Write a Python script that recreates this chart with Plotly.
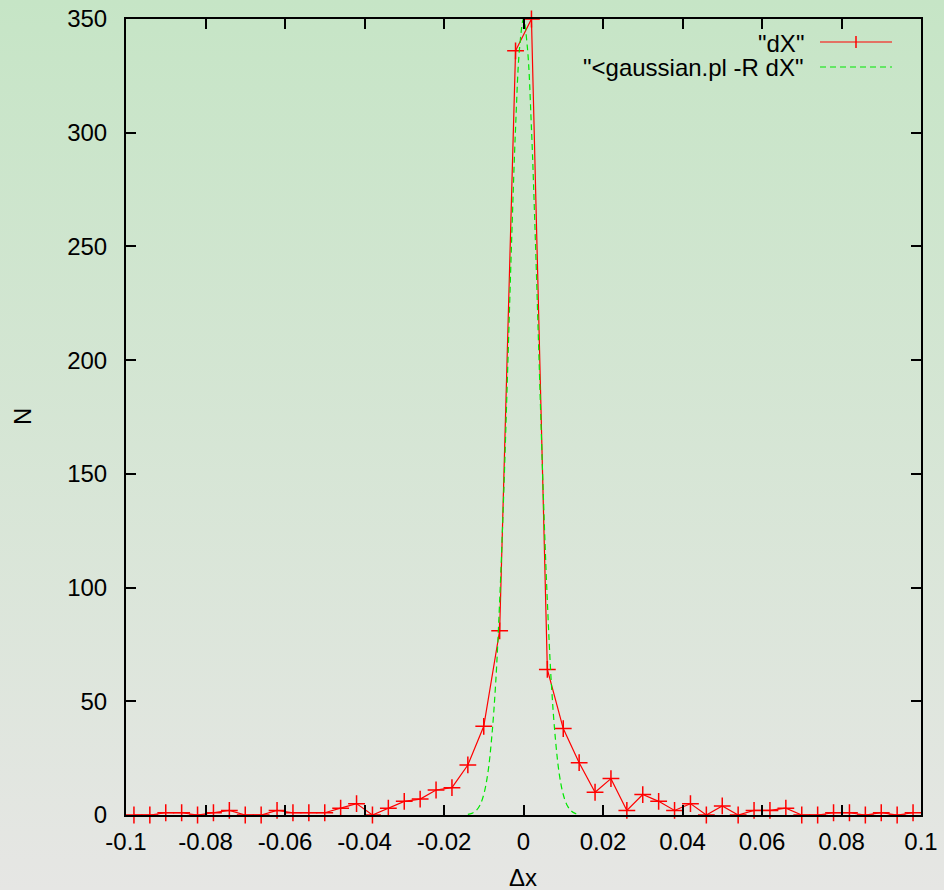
import base64
import plotly.graph_objects as go

# ---- data ----
dx_x = [-0.098, -0.094, -0.090, -0.086, -0.082, -0.078, -0.074, -0.070, -0.066, -0.062,
        -0.058, -0.054, -0.050, -0.046, -0.042, -0.038, -0.034, -0.030, -0.026, -0.022,
        -0.018, -0.014, -0.010, -0.006, -0.002, 0.002, 0.006, 0.010, 0.014, 0.018,
        0.022, 0.026, 0.030, 0.034, 0.038, 0.042, 0.046, 0.050, 0.054, 0.058,
        0.062, 0.066, 0.070, 0.074, 0.078, 0.082, 0.086, 0.090, 0.094, 0.098]
dx_n = [0, 0, 1, 1, 0, 1, 2, 0, 0, 2,
        1, 1, 1, 3, 5, 0, 3, 6, 7, 11,
        12, 22, 39, 81, 336, 350, 64, 38, 23, 10,
        16, 2, 9, 6, 2, 5, 0, 4, 0, 2,
        2, 3, 0, 0, 1, 1, 0, 1, 0, 1]

gauss_x = [-0.014, -0.013, -0.012, -0.011, -0.010, -0.009, -0.008, -0.007, -0.006, -0.005,
           -0.004, -0.003, -0.002, -0.001, 0.000, 0.001, 0.002, 0.003, 0.004, 0.005,
           0.006, 0.007, 0.008, 0.009, 0.010, 0.011, 0.012, 0.013, 0.014]
gauss_n = [0.3, 0.7, 1.8, 4.2, 9, 18, 34, 58, 94, 140,
           195, 252, 302, 337, 350, 337, 302, 252, 195, 140,
           94, 58, 34, 18, 9, 4.2, 1.8, 0.7, 0.3]

x_ticks = [-0.1, -0.08, -0.06, -0.04, -0.02, 0, 0.02, 0.04, 0.06, 0.08, 0.1]
x_labels = ["-0.1", "-0.08", "-0.06", "-0.04", "-0.02", "0", "0.02", "0.04", "0.06", "0.08", "0.1"]
y_ticks = [0, 50, 100, 150, 200, 250, 300, 350]
y_labels = ["0", "50", "100", "150", "200", "250", "300", "350"]

legend_names = ['"dX"', '"&lt;gaussian.pl -R dX"']

# ---- layout geometry ----
W, H = 944, 890
L, R, T, B = 126, 23, 19, 75
PW, PH = W - L - R, H - T - B


def px(x):
    return (x - L) / PW


def py(y):
    return (H - B - y) / PH


FONT = "Liberation Sans, Arial, sans-serif"
FS = 24
RED = "#ff0000"
GREEN = "#00e800"

svg = (
    f'<svg xmlns="http://www.w3.org/2000/svg" width="{W}" height="{H}" preserveAspectRatio="none">'
    '<defs><linearGradient id="g" x1="0" y1="0" x2="0" y2="1">'
    '<stop offset="0" stop-color="#c6e5c6"/><stop offset="1" stop-color="#e6e6e4"/>'
    '</linearGradient></defs>'
    f'<rect x="0" y="0" width="{W}" height="{H}" fill="url(#g)"/></svg>'
)
bg_src = "data:image/svg+xml;base64," + base64.b64encode(svg.encode()).decode()

fig = go.Figure()
fig.add_trace(go.Scatter(
    x=dx_x, y=dx_n, mode="lines+markers", name=legend_names[0],
    line=dict(color=RED, width=1.2),
    marker=dict(symbol="cross-thin", size=12, line=dict(color=RED, width=1.5)),
    cliponaxis=False, showlegend=False,
))
fig.add_trace(go.Scatter(
    x=gauss_x, y=gauss_n, mode="lines", name=legend_names[1],
    line=dict(color=GREEN, width=1.2, dash="6px,4px", shape="spline"),
    showlegend=False,
))

axis_common = dict(
    showgrid=False, zeroline=False, showline=True, linecolor="black", linewidth=2,
    ticks="inside", ticklen=10, tickwidth=1.5, tickcolor="black", mirror="allticks",
    tickfont=dict(family=FONT, size=FS, color="black"), automargin=False,
)

fig.update_layout(
    width=W, height=H, autosize=False,
    margin=dict(l=L, r=R, t=T, b=B, pad=0, autoexpand=False),
    paper_bgcolor="#d6e6d5", plot_bgcolor="rgba(0,0,0,0)",
    showlegend=False,
    xaxis=dict(range=[-0.1, 0.1], tickvals=x_ticks, ticktext=x_labels,
               ticklabelstandoff=4, **axis_common),
    yaxis=dict(range=[0, 350], tickvals=y_ticks, ticktext=y_labels,
               ticklabelstandoff=12, **axis_common),
    images=[dict(source=bg_src, xref="paper", yref="paper",
                 x=px(0), y=py(0), sizex=W / PW, sizey=H / PH,
                 xanchor="left", yanchor="top", sizing="stretch", layer="below")],
    annotations=[
        dict(text="N", xref="paper", yref="paper", x=px(22), y=py(417),
             textangle=-90, showarrow=False, xanchor="center", yanchor="middle",
             font=dict(family=FONT, size=FS, color="black")),
        dict(text="Δx", xref="paper", yref="paper", x=px(523), y=py(878),
             showarrow=False, xanchor="center", yanchor="middle",
             font=dict(family=FONT, size=FS, color="black")),
        dict(text=legend_names[0], xref="paper", yref="paper", x=px(806), y=py(43),
             showarrow=False, xanchor="right", yanchor="middle",
             font=dict(family=FONT, size=FS, color="black")),
        dict(text=legend_names[1], xref="paper", yref="paper", x=px(806), y=py(67),
             showarrow=False, xanchor="right", yanchor="middle",
             font=dict(family=FONT, size=FS, color="black")),
    ],
    shapes=[
        dict(type="line", xref="paper", yref="paper", x0=px(820), x1=px(892),
             y0=py(42), y1=py(42), line=dict(color=RED, width=1.2)),
        dict(type="line", xref="paper", yref="paper", x0=px(856), x1=px(856),
             y0=py(36), y1=py(48), line=dict(color=RED, width=1.5)),
        dict(type="line", xref="paper", yref="paper", x0=px(820), x1=px(892),
             y0=py(67), y1=py(67), line=dict(color=GREEN, width=1.2, dash="6px,4px")),
    ],
)

fig.write_html(
    "out.html",
    config={"displayModeBar": False, "responsive": False},
    post_script="document.body.style.margin='0';document.body.style.overflow='hidden';",
)
